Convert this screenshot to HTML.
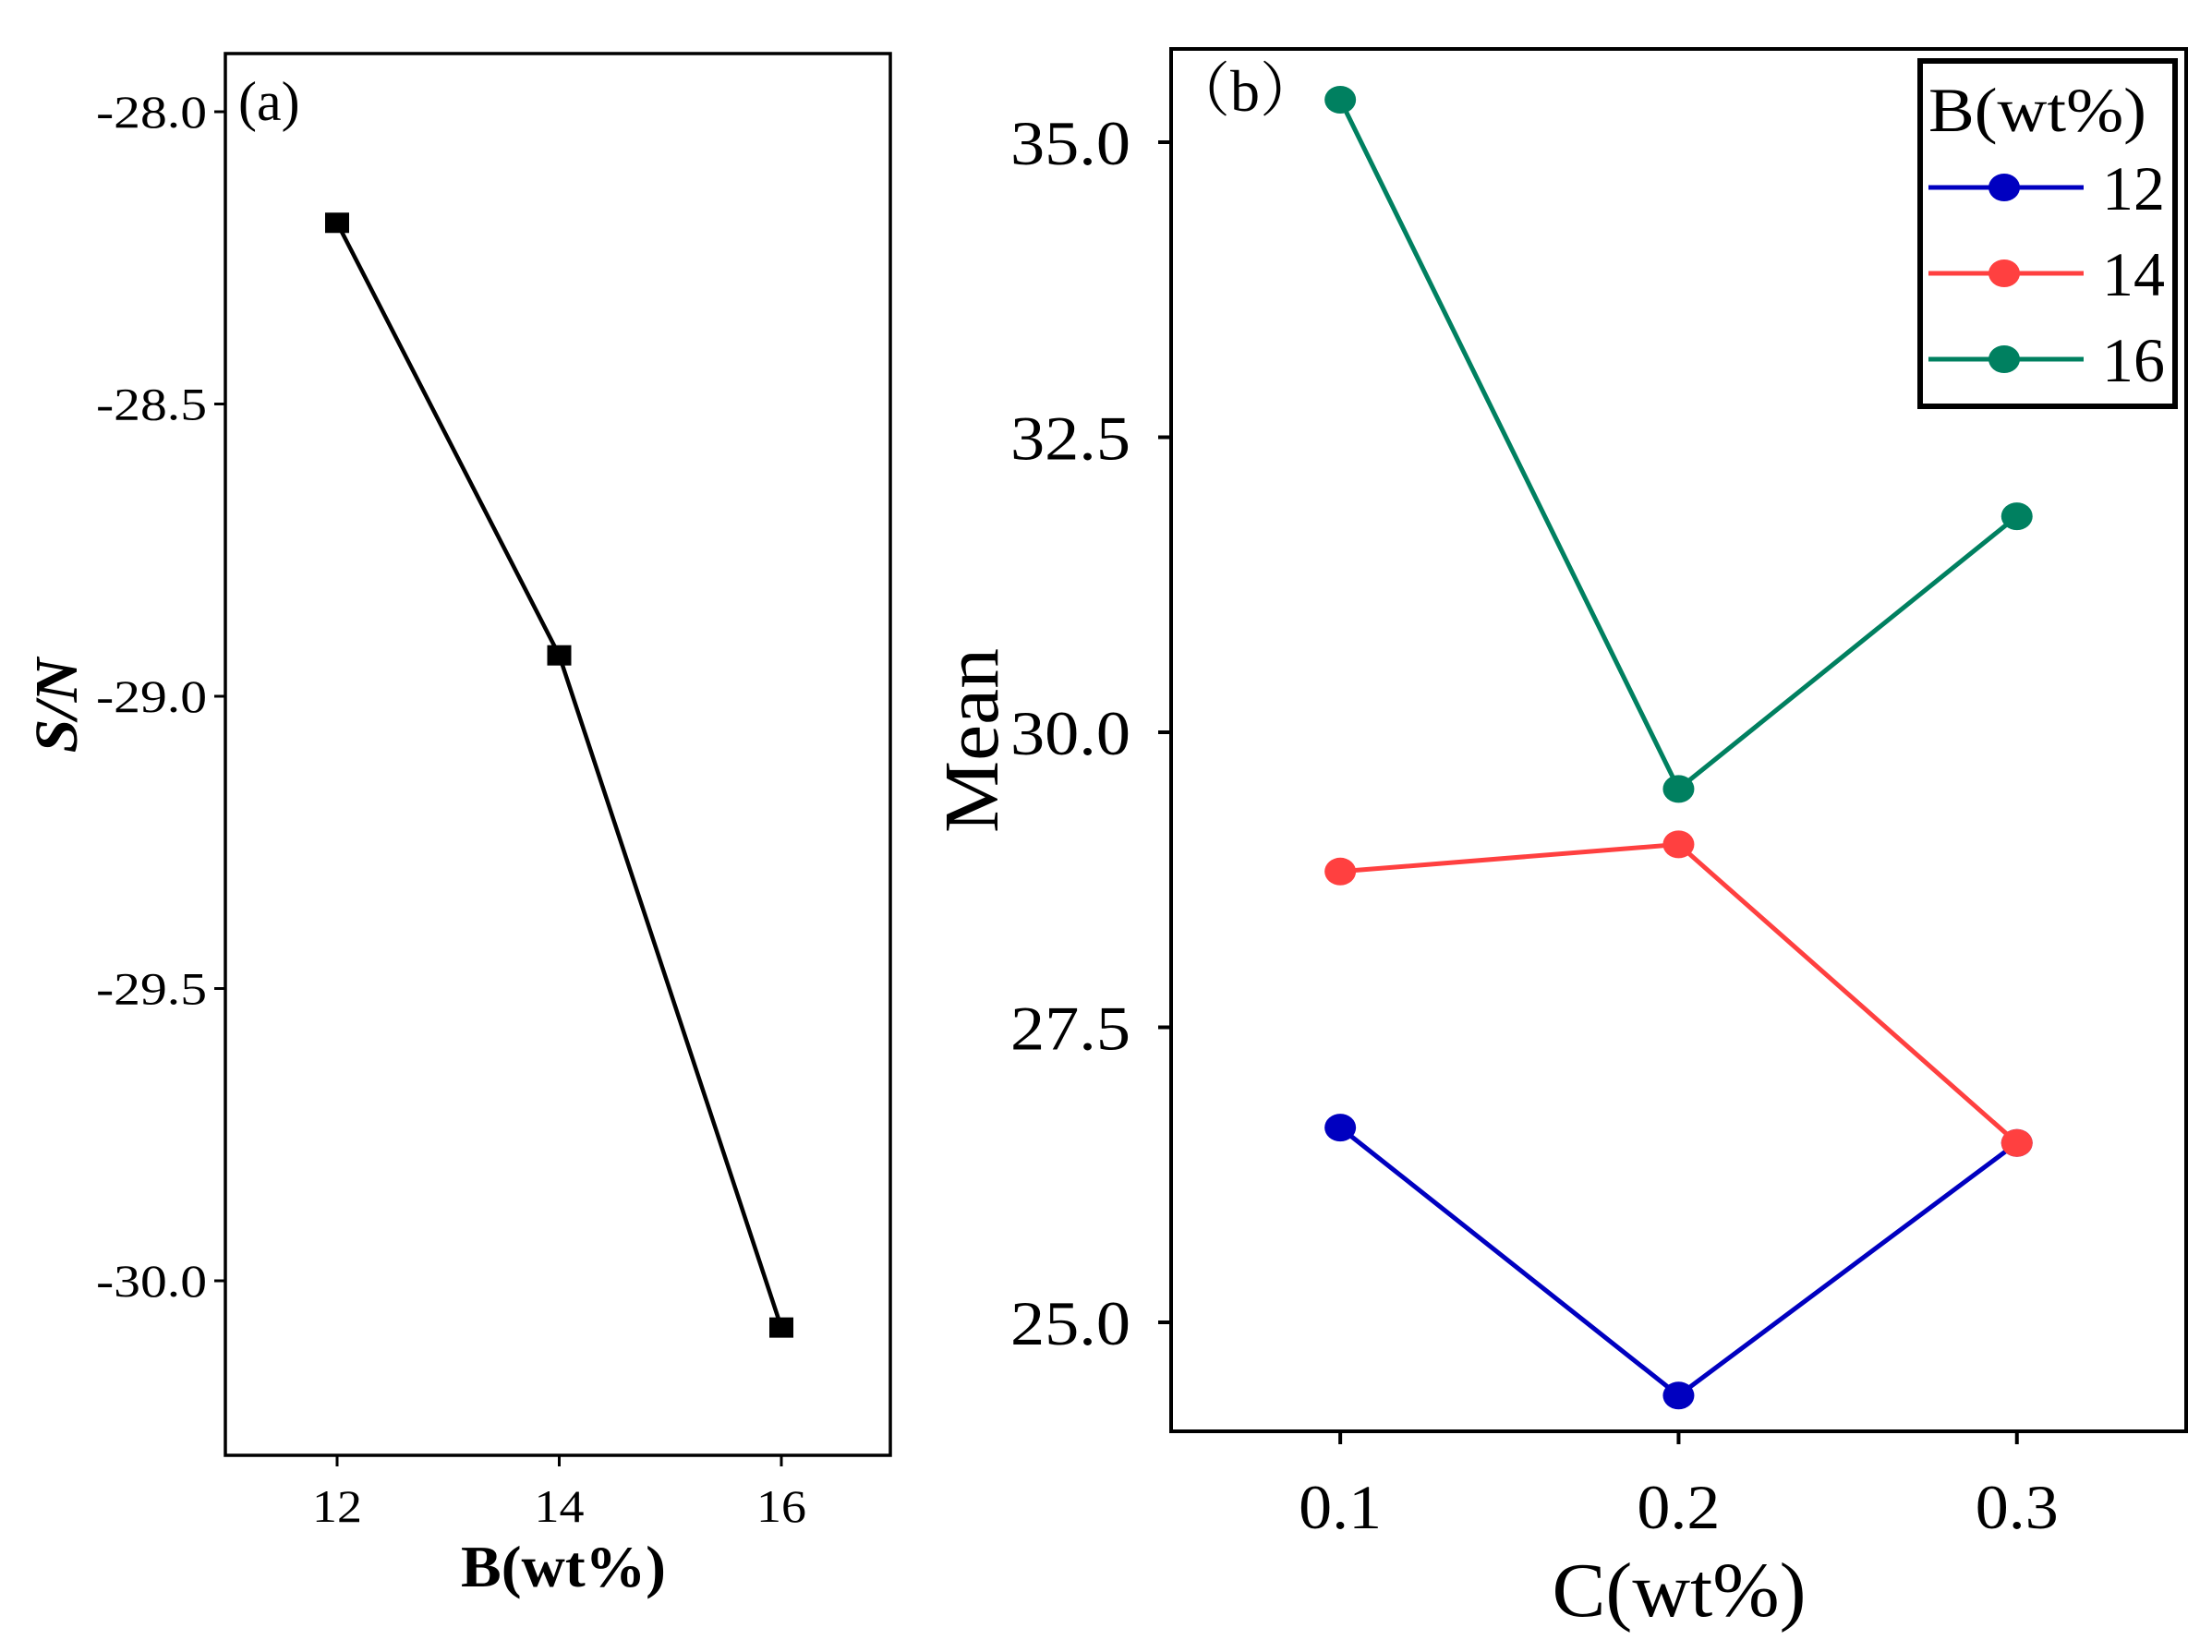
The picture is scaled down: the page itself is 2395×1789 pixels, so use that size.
<!DOCTYPE html>
<html><head><meta charset="utf-8"><style>
html,body{margin:0;padding:0;background:#fff;}
svg{display:block;font-family:"Liberation Serif","Noto Serif CJK SC",serif;}
</style></head><body>
<svg id="chart" width="2395" height="1789" viewBox="0 0 2395 1789" xmlns="http://www.w3.org/2000/svg">
<g id="pa"></g>
<g id="pb"></g>
</svg>
<script>
const aCats=[12,14,16];
const aVals=[-28.19,-28.93,-30.08];
const aYTicks=[-28.0,-28.5,-29.0,-29.5,-30.0];
const bCats=[0.1,0.2,0.3];
const bSeriesNames=["12","14","16"];
const bS12=[26.65,24.38,26.52];
const bS14=[28.82,29.05,26.52];
const bS16=[35.36,29.52,31.83];
const bYTicks=[25.0,27.5,30.0,32.5,35.0];
const NS="http://www.w3.org/2000/svg";
function mk(p,t,at){const e=document.createElementNS(NS,t);for(const k in at)e.setAttribute(k,at[k]);p.appendChild(e);return e;}
// Panel A
const pa=document.getElementById('pa');
const ax=v=>365+(v-12)*120.25, ay=v=>121+(-28-v)*633;
let f=mk(pa,'rect',{x:244,y:58,width:720,height:1518,fill:'none',stroke:'#000','stroke-width':3.5});

aYTicks.forEach(v=>{const y=ay(v);
 let l=mk(pa,'line',{x1:232,x2:244,y1:y,y2:y,stroke:'#000','stroke-width':3});
 
 let t=mk(pa,'text',{x:224,y:y+17,'text-anchor':'end','font-size':50,textLength:120,lengthAdjust:'spacingAndGlyphs'});t.textContent=v.toFixed(1);
 });
aCats.forEach(v=>{const x=ax(v);
 let l=mk(pa,'line',{x1:x,x2:x,y1:1576,y2:1588,stroke:'#000','stroke-width':3});
 
 let t=mk(pa,'text',{x:x,y:1648,'text-anchor':'middle','font-size':50,textLength:54,lengthAdjust:'spacingAndGlyphs'});t.textContent=v;
 });
let pl=mk(pa,'polyline',{points:aCats.map((c,i)=>ax(c)+','+ay(aVals[i])).join(' '),fill:'none',stroke:'#000','stroke-width':4.5});

aCats.forEach((c,i)=>{let r=mk(pa,'rect',{x:ax(c)-13,y:ay(aVals[i])-11,width:26,height:22,fill:'#000'});
 });
let t1=mk(pa,'text',{x:258,y:130,'font-size':60});t1.textContent='(a)';

let t2=mk(pa,'text',{x:610,y:1718,'text-anchor':'middle','font-size':64,'font-weight':'bold',textLength:222,lengthAdjust:'spacingAndGlyphs'});t2.textContent='B(wt%)';

let t3=mk(pa,'text',{x:0,y:0,'text-anchor':'middle','font-size':66,'font-weight':'bold','font-style':'italic',transform:'translate(83,764) rotate(-90)'});t3.textContent='S/N';

// Panel B
const pb=document.getElementById('pb');
const bx=v=>1268+(v-0.05)*3663, by=v=>154+(35-v)*127.8;
f=mk(pb,'rect',{x:1268,y:53,width:1099,height:1497,fill:'none',stroke:'#000','stroke-width':4});

bYTicks.forEach(v=>{const y=by(v);
 let l=mk(pb,'line',{x1:1254,x2:1268,y1:y,y2:y,stroke:'#000','stroke-width':4});
 
 let t=mk(pb,'text',{x:1224,y:y+24,'text-anchor':'end','font-size':68,textLength:130,lengthAdjust:'spacingAndGlyphs'});t.textContent=v.toFixed(1);
 });
bCats.forEach(v=>{const x=bx(v);
 let l=mk(pb,'line',{x1:x,x2:x,y1:1550,y2:1564,stroke:'#000','stroke-width':4});
 
 let t=mk(pb,'text',{x:x,y:1655,'text-anchor':'middle','font-size':68,textLength:90,lengthAdjust:'spacingAndGlyphs'});t.textContent=v.toFixed(1);
 });
const colors=['#0000c0','#ff4040','#008060'];
[bS12,bS14,bS16].forEach((s,k)=>{
 let l=mk(pb,'polyline',{points:bCats.map((c,i)=>bx(c)+','+by(s[i])).join(' '),fill:'none',stroke:colors[k],'stroke-width':5});
 
 bCats.forEach((c,i)=>{let m=mk(pb,'ellipse',{cx:bx(c),cy:by(s[i]),rx:17,ry:15,fill:colors[k]});
  });
});
let lg=mk(pb,'g',{});
let lb=mk(lg,'rect',{x:2079,y:66,width:276,height:374,fill:'#fff',stroke:'#000','stroke-width':6});

let lt=mk(lg,'text',{x:2088,y:142,'font-size':68,textLength:236,lengthAdjust:'spacingAndGlyphs'});lt.textContent='B(wt%)';

bSeriesNames.forEach((n,k)=>{const y=203+k*93;
 let e=mk(lg,'g',{});
 mk(e,'line',{x1:2088,x2:2256,y1:y,y2:y,stroke:colors[k],'stroke-width':5});
 mk(e,'ellipse',{cx:2170,cy:y,rx:17,ry:15,fill:colors[k]});
 let t=mk(e,'text',{x:2276,y:y+24,'font-size':68});t.textContent=n;});
let tb=mk(pb,'text',{x:1268,y:120,'font-size':64});tb.textContent='（b）';

let tx=mk(pb,'text',{x:1818,y:1750,'text-anchor':'middle','font-size':84,textLength:275,lengthAdjust:'spacingAndGlyphs'});tx.textContent='C(wt%)';

let ty=mk(pb,'text',{x:0,y:0,'text-anchor':'middle','font-size':84,textLength:200,lengthAdjust:'spacingAndGlyphs',transform:'translate(1080,802) rotate(-90)'});ty.textContent='Mean';

</script>
</body></html>
